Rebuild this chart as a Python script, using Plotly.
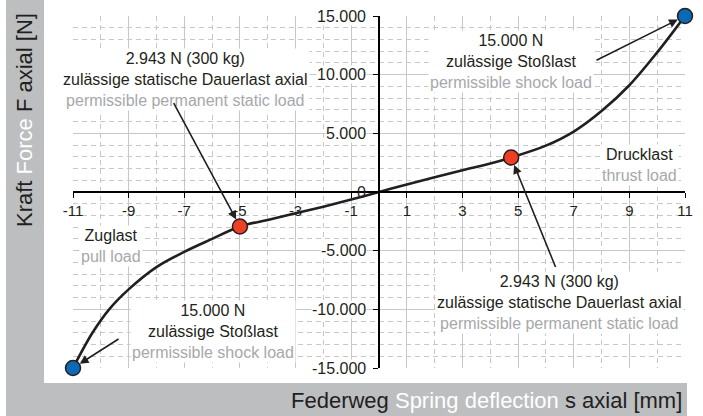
import plotly.graph_objects as go

# ---- data ----
deflection_mm = [-11, -10.3, -9.7, -9, -8, -7, -6, -5, -4, -3, -2, -1, 0,
                 1, 2, 3, 4, 4.75, 6, 7, 8, 9, 10, 11]
force_N = [-15000, -12000, -10000, -8300, -6400, -5100, -4000, -2943, -2380, -1820, -1250, -640, 0,
           640, 1250, 1850, 2420, 2943, 3950, 5150, 6900, 9100, 11900, 15000]

static_x = [-5, 4.75]
static_y = [-2943, 2943]
shock_x = [-11, 11]
shock_y = [-15000, 15000]

x_tick_vals = [-11, -9, -7, -5, -3, -1, 1, 3, 5, 7, 9, 11]
x_tick_text = ["-11", "-9", "-7", "-5", "-3", "-1", "1", "3", "5", "7", "9", "11"]
y_tick_vals = [-15000, -10000, -5000, 0, 5000, 10000, 15000]
y_tick_text = ["-15.000", "-10.000", "-5.000", "0", "5.000", "10.000", "15.000"]

FONT = "Liberation Sans, Arial, sans-serif"
GRAY_BAND = "#bcbec0"
GRAY_TXT = "#a6a8ab"
DARK = "#231f20"
GRID = "#c6c7c9"

fig = go.Figure()
fig.add_trace(go.Scatter(x=deflection_mm, y=force_N, mode="lines",
                         line=dict(color=DARK, width=2.6, shape="spline", smoothing=1.0),
                         cliponaxis=False, hoverinfo="skip"))
fig.add_trace(go.Scatter(x=static_x, y=static_y, mode="markers",
                         marker=dict(color="#ee3f24", size=15, line=dict(color=DARK, width=1.5)),
                         cliponaxis=False))
fig.add_trace(go.Scatter(x=shock_x, y=shock_y, mode="markers",
                         marker=dict(color="#0a6ab6", size=15, line=dict(color=DARK, width=1.5)),
                         cliponaxis=False))

W, H = 703, 416
ML, MR, MT, MB = 73, 18, 16, 48
PW, PH = W - ML - MR, H - MT - MB


def px(xp):
    return (xp - ML) / PW


def py(yp):
    return (H - MB - yp) / PH


shapes = [
    dict(type="rect", xref="paper", yref="paper", x0=px(6), x1=px(44), y0=py(416), y1=py(0),
         fillcolor=GRAY_BAND, line=dict(width=0), layer="below"),
    dict(type="rect", xref="paper", yref="paper", x0=px(6), x1=px(687), y0=py(416), y1=py(383),
         fillcolor=GRAY_BAND, line=dict(width=0), layer="below"),
]


def g(t):
    return f"<span style='color:{GRAY_TXT}'>{t}</span>"


static_txt = "2.943 N (300 kg)<br>zulässige statische Dauerlast axial<br>" + g("permissible permanent static load")
shock_txt = "15.000 N<br>zulässige Stoßlast<br>" + g("permissible shock load")

ann_font = dict(family=FONT, size=16, color=DARK)
annotations = [
    dict(x=-6.96, y=9550, text=static_txt),
    dict(x=4.74, y=11090, text=shock_txt),
    dict(x=9.38, y=2320, text="Drucklast<br>" + g("thrust load")),
    dict(x=-9.65, y=-4620, text="Zuglast<br>" + g("pull load")),
    dict(x=-5.95, y=-11900, text=shock_txt),
    dict(x=6.5, y=-9440, text=static_txt),
]
for a in annotations:
    a.update(xref="x", yref="y", showarrow=False, font=ann_font, bgcolor="white",
             borderpad=1, xanchor="center", yanchor="middle", align="center")

# y tick labels with white knock-out background (drawn left of the centre axis)
for v, t in zip(y_tick_vals, y_tick_text):
    annotations.append(dict(x=0, y=v, xref="x", yref="y", text=t, showarrow=False,
                            xanchor="right", yanchor="middle", xshift=-12,
                            font=dict(family=FONT, size=16, color=DARK),
                            bgcolor="white" if v != 0 else "rgba(0,0,0,0)", borderpad=0))

# arrows pointing at the marked points
arrows = [
    (static_x[0], static_y[0], -67, -125),
    (shock_x[1], shock_y[1], -90, 45),
    (shock_x[0], shock_y[0], 47, -30),
    (static_x[1], static_y[1], 45, 111),
]
for ax_, ay_, dx, dy in arrows:
    annotations.append(dict(x=ax_, y=ay_, xref="x", yref="y", ax=dx, ay=dy, text="",
                            showarrow=True, arrowhead=2, arrowsize=1.1, arrowwidth=1.6,
                            arrowcolor=DARK, standoff=8))

# axis titles
annotations.append(dict(xref="paper", yref="paper", x=px(25), y=py(120), textangle=-90,
                        text="Kraft <span style='color:white'>Force</span> F axial [N]",
                        showarrow=False, font=dict(family=FONT, size=22, color=DARK),
                        xanchor="center", yanchor="middle"))
annotations.append(dict(xref="paper", yref="paper", x=px(684), y=py(400),
                        text="Federweg <span style='color:white'>Spring deflection</span> s axial [mm]",
                        showarrow=False, font=dict(family=FONT, size=22, color=DARK),
                        xanchor="right", yanchor="middle"))

fig.update_layout(
    width=W, height=H, margin=dict(l=ML, r=MR, t=MT, b=MB, autoexpand=False),
    paper_bgcolor="white", plot_bgcolor="white", showlegend=False,
    font=dict(family=FONT, color=DARK),
    shapes=shapes, annotations=annotations,
    xaxis=dict(range=[-11, 11], anchor="free", position=0.5, showline=True, linecolor="black",
               linewidth=1.5, zeroline=False, automargin=False, tickmode="array", tickvals=x_tick_vals,
               ticktext=x_tick_text, ticks="outside", ticklen=5, tickcolor="black",
               tickfont=dict(family=FONT, size=15, color=DARK),
               showgrid=True, gridcolor=GRID, gridwidth=1,
               minor=dict(tickmode="linear", tick0=-11, dtick=1, showgrid=True, gridcolor=GRID,
                          griddash="5px,4px", gridwidth=1, ticks="")),
    yaxis=dict(range=[-15000, 15000], anchor="free", position=0.5, showline=True, linecolor="black",
               linewidth=1.5, zeroline=False, automargin=False, tickmode="array", tickvals=y_tick_vals,
               ticktext=y_tick_text, showticklabels=False, ticks="outside", ticklen=5, tickcolor="black",
               showgrid=True, gridcolor=GRID, gridwidth=1,
               minor=dict(tickmode="linear", tick0=-15000, dtick=1000, showgrid=True, gridcolor=GRID,
                          griddash="5px,4px", gridwidth=1, ticks="")),
)

fig.write_html("out.html", config={"displayModeBar": False},
               post_script="document.body.style.margin='0';document.body.style.overflow='hidden';")
